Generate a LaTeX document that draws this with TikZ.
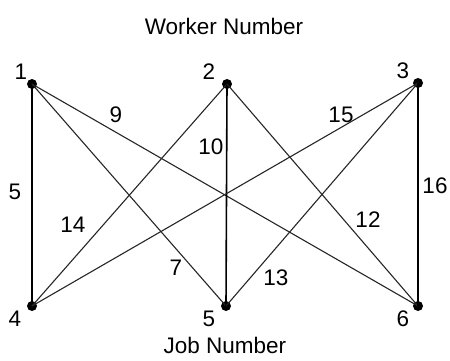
\documentclass[tikz,border=0pt]{standalone}
\usepackage{fontspec}
\setmainfont{Liberation Sans}
\begin{document}
\begin{tikzpicture}[x=1pt,y=-1pt,
  vtx/.style={circle,fill=black,inner sep=0pt,minimum size=10pt},
  edge/.style={line width=1.1pt,black!85},
  vedge/.style={line width=1.6pt,black},
  lbl/.style={font=\fontsize{22.5}{26}\selectfont,inner sep=0pt}]
\useasboundingbox (0,0) rectangle (450,360);
\node[vtx] (w1) at (32,84) {};
\node[vtx] (w2) at (227,84) {};
\node[vtx] (w3) at (418,83) {};
\node[vtx] (j4) at (32,306) {};
\node[vtx] (j5) at (226,306) {};
\node[vtx] (j6) at (418,306) {};
\draw[vedge] (w1.center) -- (j4.center);
\draw[edge] (w1.center) -- (j5.center);
\draw[edge] (w1.center) -- (j6.center);
\draw[edge] (w2.center) -- (j4.center);
\draw[vedge] (w2.center) -- (j5.center);
\draw[edge] (w2.center) -- (j6.center);
\draw[edge] (w3.center) -- (j4.center);
\draw[edge] (w3.center) -- (j5.center);
\draw[vedge] (w3.center) -- (j6.center);
\node[lbl] (t1) at (21,72) {1};
\node[lbl] (t2) at (209,72) {2};
\node[lbl] (t3) at (403,71) {3};
\node[lbl] (t4) at (15,319) {4};
\node[lbl] (t5) at (209,319) {5};
\node[lbl] (t6) at (403,319) {6};
\node[lbl] (e9) at (116,115) {9};
\node[lbl] (e10) at (211,147) {10};
\node[lbl] (e15) at (341,115) {15};
\node[lbl] (e5) at (15,192) {5};
\node[lbl] (e14) at (73,225) {14};
\node[lbl] (e7) at (176,268) {7};
\node[lbl] (e13) at (276,278) {13};
\node[lbl] (e12) at (368,220) {12};
\node[lbl] (e16) at (435,186) {16};
\node[lbl] (top) at (224,26) {Worker Number};
\node[lbl] (bot) at (225,345) {Job Number};
\end{tikzpicture}
\end{document}
